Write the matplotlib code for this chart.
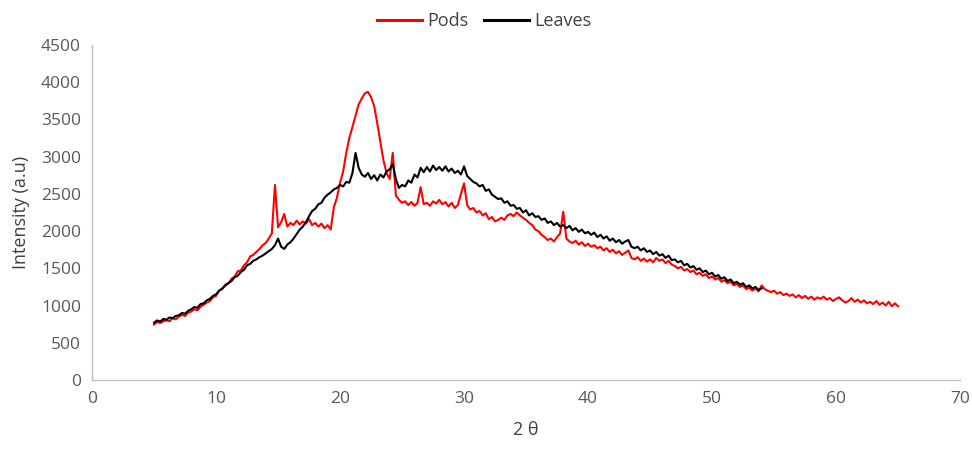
import numpy as np
import matplotlib
matplotlib.use("Agg")
import matplotlib.pyplot as plt

# 2-theta grid start/step for both patterns
theta_start = 5.0
theta_step = 0.25

pods = [
    745, 780, 765, 790,  800, 790, 830, 815,  850, 875, 860, 905,
    920, 950, 935, 985,  1010, 1040, 1060, 1110,  1130, 1200, 1220, 1280,
    1300, 1360, 1390, 1460,  1470, 1540, 1580, 1660,  1680, 1720, 1760, 1810,
    1840, 1900, 1970, 2620,  2050, 2120, 2230, 2060,  2110, 2080, 2140, 2090,
    2130, 2100, 2160, 2080,  2110, 2060, 2100, 2040,  2080, 2020, 2320, 2450,
    2650, 2800, 3050, 3250,  3400, 3550, 3700, 3780,  3850, 3870, 3800, 3680,
    3450, 3200, 2950, 2780,  2700, 3050, 2480, 2420,  2380, 2400, 2350, 2390,
    2340, 2380, 2590, 2360,  2380, 2340, 2400, 2370,  2420, 2360, 2390, 2330,
    2380, 2310, 2350, 2500,  2640, 2350, 2290, 2310,  2250, 2270, 2210, 2240,
    2160, 2190, 2130, 2150,  2180, 2150, 2210, 2230,  2200, 2250, 2210, 2180,
    2150, 2110, 2080, 2020,  2000, 1950, 1920, 1880,  1900, 1860, 1920, 1970,
    2260, 1900, 1860, 1840,  1870, 1820, 1850, 1800,  1830, 1790, 1810, 1770,
    1790, 1740, 1770, 1720,  1750, 1700, 1730, 1680,  1710, 1740, 1640, 1620,
    1650, 1600, 1630, 1590,  1620, 1580, 1640, 1600,  1620, 1570, 1600, 1550,
    1530, 1500, 1520, 1470,  1490, 1450, 1470, 1420,  1440, 1400, 1420, 1370,
    1390, 1350, 1370, 1320,  1340, 1300, 1320, 1270,  1290, 1250, 1270, 1220,
    1240, 1200, 1230, 1190,  1270, 1220, 1200, 1180,  1200, 1160, 1180, 1140,
    1160, 1130, 1150, 1110,  1140, 1100, 1130, 1090,  1120, 1080, 1110, 1090,
    1120, 1080, 1100, 1060,  1090, 1110, 1070, 1040,  1060, 1100, 1050, 1080,
    1040, 1070, 1030, 1050,  1020, 1060, 1010, 1040,  1000, 1050, 990, 1030,
    990,
]

leaves = [
    770, 800, 785, 820,  810, 840, 830, 860,  870, 900, 890, 930,
    950, 980, 970, 1020,  1030, 1070, 1090, 1130,  1150, 1200, 1230, 1270,
    1300, 1330, 1380, 1400,  1450, 1480, 1540, 1560,  1600, 1620, 1650, 1670,
    1700, 1730, 1760, 1810,  1900, 1790, 1760, 1820,  1850, 1900, 1960, 2020,
    2060, 2120, 2200, 2270,  2300, 2360, 2380, 2450,  2490, 2520, 2560, 2580,
    2620, 2600, 2660, 2650,  2780, 3050, 2850, 2760,  2730, 2780, 2700, 2750,
    2680, 2760, 2720, 2800,  2830, 2900, 2700, 2580,  2620, 2600, 2680, 2650,
    2760, 2720, 2850, 2790,  2860, 2800, 2880, 2820,  2860, 2810, 2870, 2800,
    2840, 2780, 2810, 2760,  2870, 2740, 2700, 2660,  2640, 2600, 2620, 2540,
    2560, 2490, 2460, 2430,  2440, 2380, 2400, 2340,  2350, 2300, 2310, 2250,
    2280, 2210, 2240, 2190,  2200, 2150, 2170, 2110,  2130, 2080, 2110, 2060,
    2080, 2040, 2070, 2010,  2040, 1990, 2020, 1970,  1990, 1950, 1980, 1920,
    1950, 1900, 1930, 1870,  1900, 1850, 1880, 1830,  1860, 1880, 1790, 1770,
    1790, 1740, 1770, 1720,  1740, 1690, 1720, 1670,  1690, 1640, 1670, 1610,
    1620, 1580, 1600, 1540,  1560, 1510, 1530, 1480,  1500, 1450, 1470, 1420,
    1440, 1390, 1410, 1360,  1380, 1330, 1350, 1300,  1320, 1280, 1300, 1250,
    1270, 1230, 1250, 1210,  1230,
]

x_ticks = [0, 10, 20, 30, 40, 50, 60, 70]
y_ticks = [0, 500, 1000, 1500, 2000, 2500, 3000, 3500, 4000, 4500]

x_pods = theta_start + theta_step * np.arange(len(pods))
x_leaves = theta_start + theta_step * np.arange(len(leaves))

plt.rcParams['font.family'] = ['Open Sans', 'DejaVu Sans']

fig = plt.figure(figsize=(9.72, 4.54), dpi=100)
ax = fig.add_axes([0.0947, 0.163, 0.893, 0.738])

ax.plot(x_pods, pods, color='#ff0000', lw=1.5, label='Pods')
ax.plot(x_leaves, leaves, color='#000000', lw=1.5, label='Leaves')

ax.set_xlim(0, 70)
ax.set_ylim(0, 4500)
ax.set_xticks(x_ticks)
ax.set_yticks(y_ticks)
ax.tick_params(length=0, labelsize=12.5, colors='#595959', pad=8)
for s in ['top', 'right']:
    ax.spines[s].set_visible(False)
for s in ['left', 'bottom']:
    ax.spines[s].set_color('#bfbfbf')
    ax.spines[s].set_linewidth(1.0)

ax.set_xlabel('2 θ', fontsize=13, color='#404040', labelpad=10)
ax.set_ylabel('Intensity (a.u)', fontsize=13, color='#404040', labelpad=8)

leg = fig.legend(loc='center', bbox_to_anchor=(0.498, 0.953), ncol=2, frameon=False,
                 fontsize=13, handlelength=2.5, handletextpad=0.25, columnspacing=0.9)
for line in leg.get_lines():
    line.set_linewidth(2.2)
for t in leg.get_texts():
    t.set_color('#404040')

fig.savefig('out.png', dpi=100)
